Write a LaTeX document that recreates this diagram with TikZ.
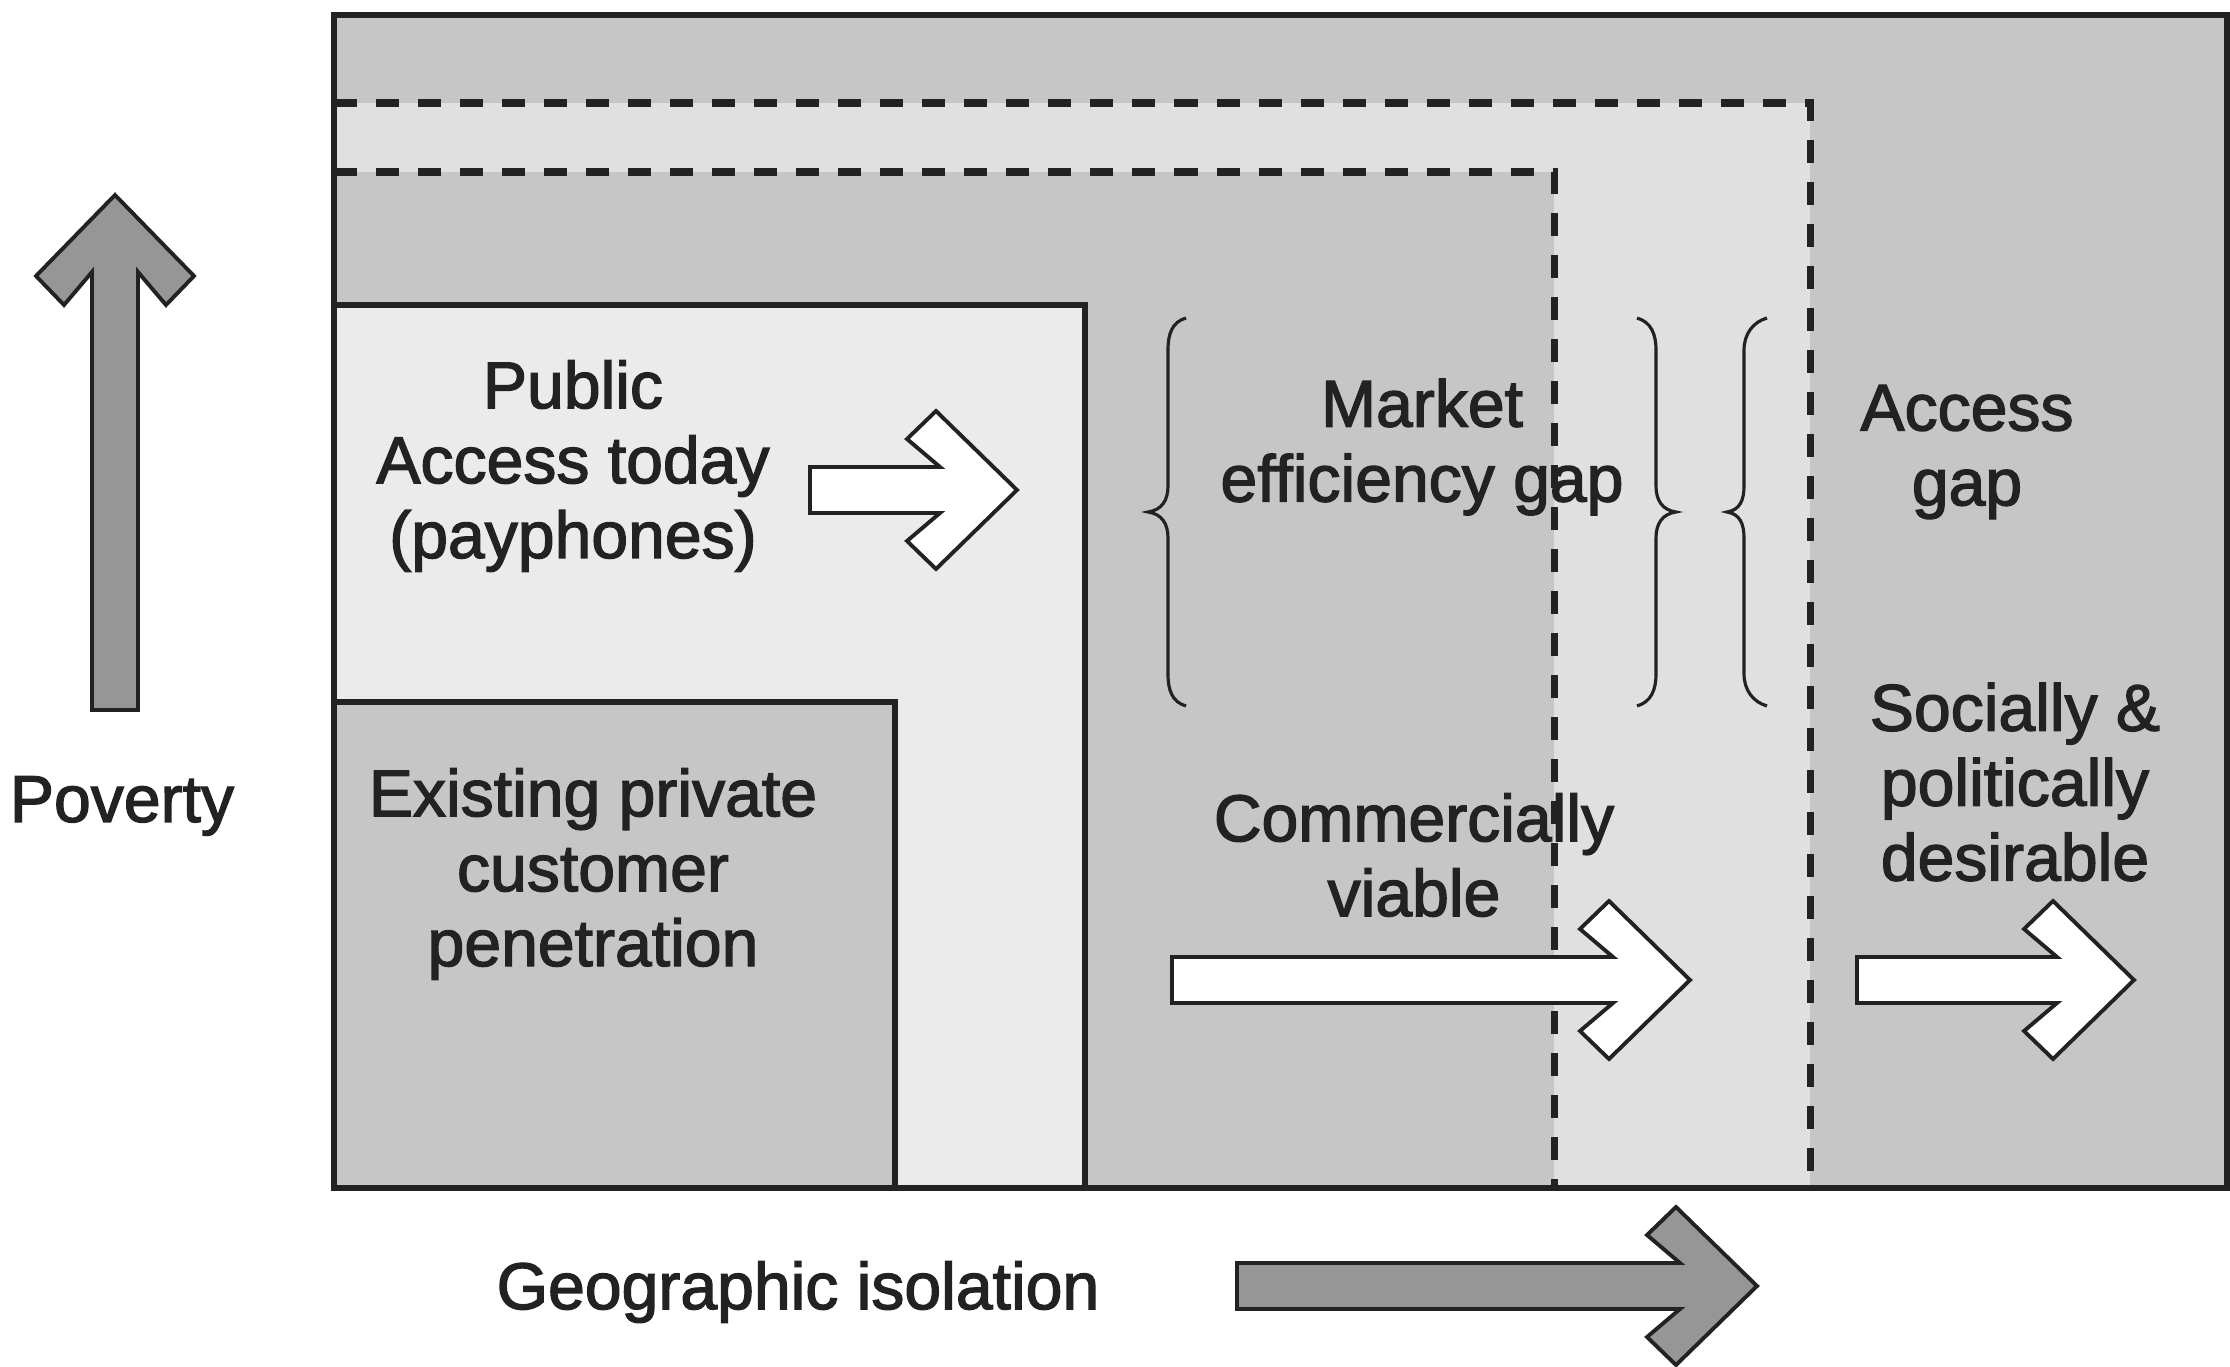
\documentclass[tikz,border=0pt]{standalone}
\usepackage{fontspec}
\setmainfont{Liberation Sans}
\newfontfamily\labelfont[FakeBold=2]{Liberation Sans}
\definecolor{midgray}{HTML}{C6C6C6}
\definecolor{lightgray}{HTML}{E0E0E0}
\definecolor{palegray}{HTML}{EBEBEB}
\definecolor{arrowgray}{HTML}{969696}
\definecolor{ink}{HTML}{222222}
\newcommand\blockarrow[2]{% #1 shaft length, #2 options; tip at (0,0), pointing +x
  \filldraw[#2] (-#1,-23) -- (-77,-23) -- (-110,-51) -- (-81,-79) -- (0,0)
    -- (-81,79) -- (-110,51) -- (-77,23) -- (-#1,23) -- cycle;}
\begin{document}
\begin{tikzpicture}[x=0.01cm,y=-0.01cm,
  border/.style={draw=ink,line width=1.8pt},
  gapline/.style={draw=ink,line width=2pt,dash pattern=on 0.23cm off 0.19cm},
  whitearrow/.style={draw=ink,line width=1.1pt,fill=white,line join=miter},
  grayarrow/.style={draw=ink,line width=1.1pt,fill=arrowgray,line join=miter},
  bracestyle/.style={draw=ink,line width=0.9pt},
  label/.style={align=center,text=ink,inner sep=0pt,font=\labelfont\fontsize{18.8}{21.3}\selectfont}]
\useasboundingbox (0,0) rectangle (2230,1367);
% regions
\fill[midgray] (334,15) rectangle (2227,1188);
\fill[lightgray] (334,103) rectangle (1810,1188);
\fill[midgray] (334,172) rectangle (1554,1188);
\fill[palegray] (334,305) rectangle (1085,1188);
\fill[midgray] (334,702) rectangle (895,1188);
% dashed gap boundaries
\draw[gapline] (334,103) -- (1810,103) -- (1810,1188);
\draw[gapline] (334,172) -- (1554,172) -- (1554,1188);
% solid borders
\draw[border] (334,305) rectangle (1085,1188);
\draw[border] (334,702) rectangle (895,1188);
\draw[border] (334,15) rectangle (2227,1188);
% braces
\draw[bracestyle] (1186,318) .. controls (1172,322) and (1168,334) .. (1168,350) -- (1168,486)
  .. controls (1168,500) and (1162,510) .. (1148,512) .. controls (1162,514) and (1168,524) .. (1168,538)
  -- (1168,674) .. controls (1168,690) and (1172,702) .. (1186,706);
\draw[bracestyle] (1637,318) .. controls (1651,322) and (1656,334) .. (1656,350) -- (1656,486)
  .. controls (1656,500) and (1662,510) .. (1676,512) .. controls (1662,514) and (1656,524) .. (1656,538)
  -- (1656,674) .. controls (1656,690) and (1651,702) .. (1637,706);
\draw[bracestyle] (1767,318) .. controls (1753,322) and (1744,334) .. (1744,350) -- (1744,486)
  .. controls (1744,500) and (1740,510) .. (1727,512) .. controls (1740,514) and (1744,524) .. (1744,538)
  -- (1744,674) .. controls (1744,690) and (1753,702) .. (1767,706);
% block arrows
\begin{scope}[shift={(1017,490)}]\blockarrow{207}{whitearrow}\end{scope}
\begin{scope}[shift={(1690,980)}]\blockarrow{518}{whitearrow}\end{scope}
\begin{scope}[shift={(2134,980)}]\blockarrow{277}{whitearrow}\end{scope}
\begin{scope}[shift={(1757,1286)}]\blockarrow{520}{grayarrow}\end{scope}
\begin{scope}[shift={(115,195)},rotate=90]\blockarrow{515}{grayarrow}\end{scope}
% labels
\node[label] (pub) at (573,466) {Public\\Access today\\(payphones)};
\node[label] (exist) at (593,874) {Existing private\\customer\\penetration};
\node[label] (market) at (1422,447) {Market\\efficiency gap};
\node[label] (access) at (1967,452) {Access\\gap};
\node[label] (social) at (2015,782) {Socially \&\\politically\\desirable};
\node[label] (comm) at (1414,855) {Commercially\\viable};
\node[label] (poverty) at (122,806) {Poverty};
\node[label] (geo) at (798,1292) {Geographic isolation};
\end{tikzpicture}
\end{document}
